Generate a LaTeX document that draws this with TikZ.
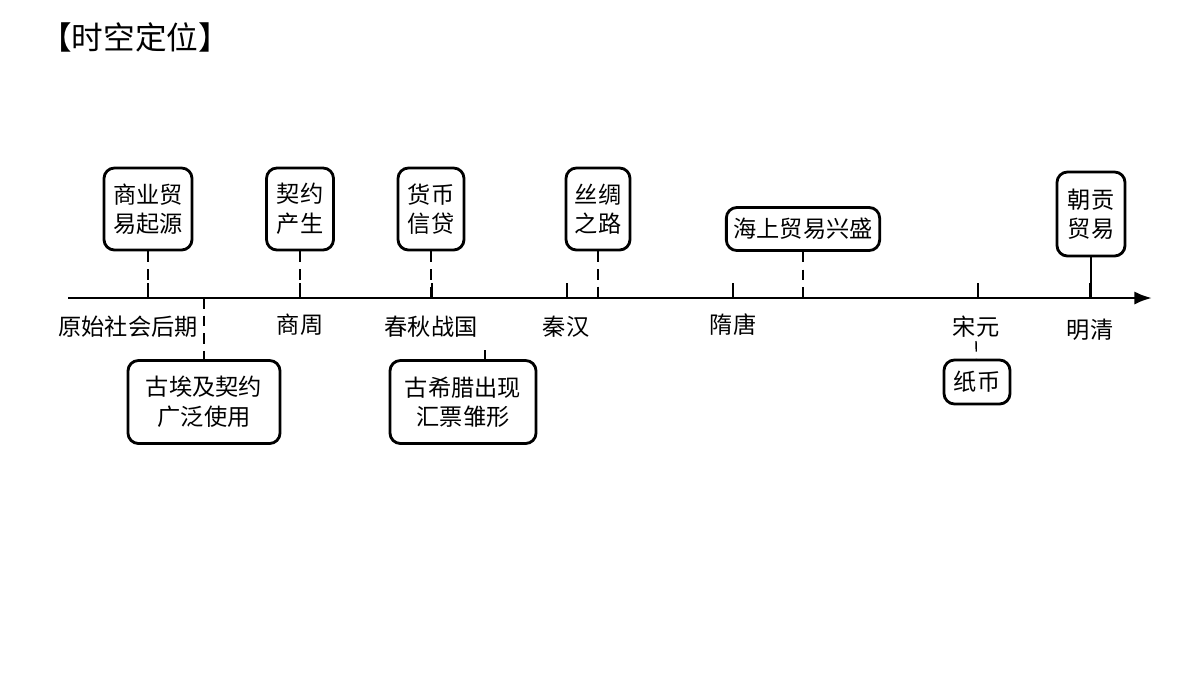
\documentclass[tikz,border=0pt]{standalone}
\usepackage{fontspec}
\setmainfont{Noto Sans CJK SC}
\usetikzlibrary{arrows.meta}
\begin{document}
\begin{tikzpicture}[x=0.01cm,y=-0.01cm,
  event box/.style={draw,thick,rounded corners=3pt,fill=white,align=center,font=\fontsize{6.6pt}{8.4pt}\selectfont,inner sep=2pt},
  era label/.style={font=\fontsize{6.6pt}{8pt}\selectfont},
  link/.style={densely dashed,thin}]
\useasboundingbox (0,0) rectangle (1200,675);
\node[font=\fontsize{9pt}{10pt}\selectfont] (title) at (135,37) {【时空定位】};
% axis
\coordinate (start) at (68,298);
\coordinate (end) at (1152,298);
\draw[thick,-{Latex[length=5pt]}] (start) -- (end);
% ticks and era labels
\foreach \x/\lab/\nm in {148/原始社会后期/t1,300/商周/t2,432/春秋战国/t3,567/秦汉/t4,733/隋唐/t5,978/宋元/t6,1090/明清/t7}{
  \coordinate (\nm) at (\x,298);
  \draw (\x,283) -- (\nm);
}
\node[era label] (e1) at (128,327) {原始社会后期};
\node[era label] (e2) at (300,325) {商周};
\node[era label] (e3) at (431,327) {春秋战国};
\node[era label] (e4) at (566,327) {秦汉};
\node[era label] (e5) at (733,325) {隋唐};
\node[era label] (e6) at (976,327) {宋元};
\node[era label] (e7) at (1090,330) {明清};
% upper events
\node[event box,minimum width=0.88cm,minimum height=0.82cm] (b1) at (148,209) {商业贸\\易起源};
\node[event box,minimum width=0.67cm,minimum height=0.82cm] (b2) at (300,209) {契约\\产生};
\node[event box,minimum width=0.66cm,minimum height=0.82cm] (b3) at (431,209) {货币\\信贷};
\node[event box,minimum width=0.64cm,minimum height=0.82cm] (b4) at (598,209) {丝绸\\之路};
\node[event box,minimum width=1.53cm,minimum height=0.43cm] (b5) at (803,229) {海上贸易兴盛};
\node[event box,minimum width=0.68cm,minimum height=0.84cm] (b6) at (1091,214) {朝贡\\贸易};
\coordinate (a1) at (148,298);
\coordinate (a2) at (300,298);
\coordinate (a3) at (431,298);
\coordinate (a4) at (598,298);
\coordinate (a5) at (803,298);
\coordinate (a6) at (1091,298);
\foreach \i in {1,...,5}{\draw[link] (b\i) -- (a\i);}
\draw (b6) -- (a6);
% lower events
\node[event box,minimum width=1.52cm,minimum height=0.83cm] (c1) at (204,402) {古埃及契约\\广泛使用};
\node[event box,minimum width=1.46cm,minimum height=0.83cm] (c2) at (463,402) {古希腊出现\\汇票雏形};
\node[event box,minimum width=0.66cm,minimum height=0.44cm] (c3) at (977,382) {纸币};
\coordinate (d1) at (204,298);
\draw[link] (d1) -- (c1);
\draw[link] (e3.south east) ++(-5,0) coordinate (d2) -- (c2.north -| d2);
\draw[link] (e6) ++(0,14) coordinate (d3) -- (c3);
\end{tikzpicture}
\end{document}
